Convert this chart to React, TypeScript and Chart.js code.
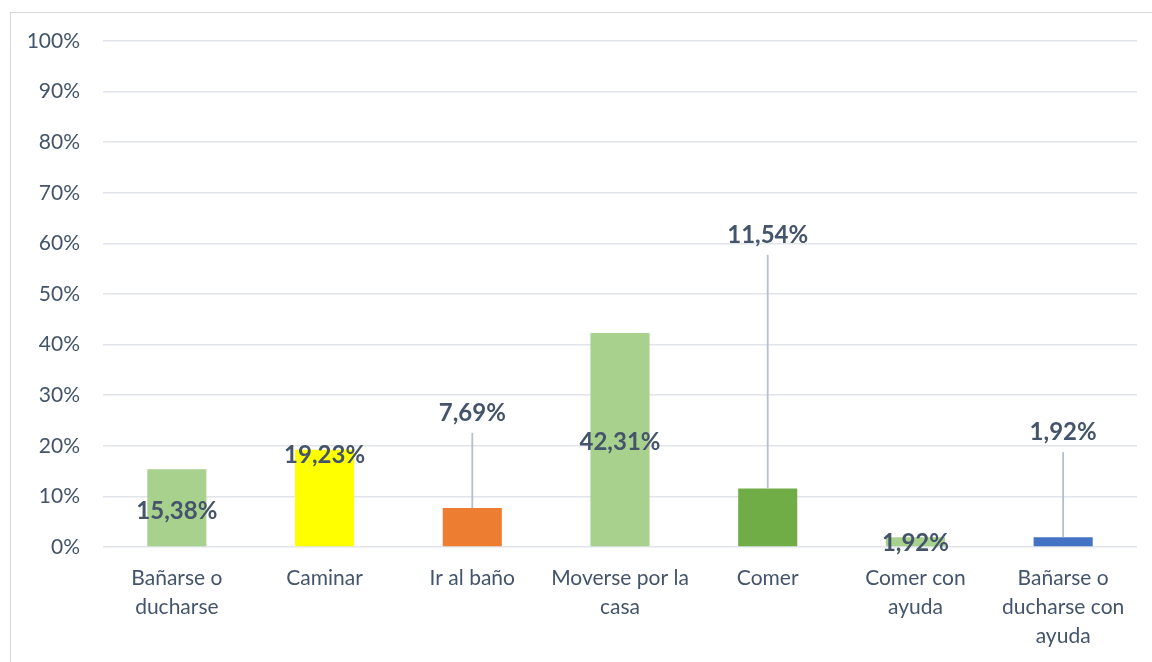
import React, { useEffect, useRef } from "react";
import { Chart, registerables } from "chart.js";

Chart.register(...registerables);

const categories: string[][] = [
  ["Bañarse o", "ducharse"],
  ["Caminar"],
  ["Ir al baño"],
  ["Moverse por la", "casa"],
  ["Comer"],
  ["Comer con", "ayuda"],
  ["Bañarse o", "ducharse con", "ayuda"],
];
const values = [15.38, 19.23, 7.69, 42.31, 11.54, 1.92, 1.92];
const barColors = ["#A9D18E", "#FFFF00", "#ED7D31", "#A9D18E", "#70AD47", "#A9D18E", "#4472C4"];
const labelAt = [7.1, 18.2, 26.5, 20.7, 61.7, 0.8, 22.7];
const hasLeader = [false, false, true, false, true, false, true];

const TEXT = "#44546A";
const FONT = "Lato, 'Open Sans', sans-serif";

const labelPlugin = {
  id: "valueLabels",
  afterDatasetsDraw(chart: any) {
    const ctx = chart.ctx;
    const meta = chart.getDatasetMeta(0);
    const yScale = chart.scales.y;
    ctx.save();
    meta.data.forEach((el: any, i: number) => {
      const x = el.x;
      const y = yScale.getPixelForValue(labelAt[i]);
      if (hasLeader[i]) {
        ctx.strokeStyle = "#B4BFCE";
        ctx.lineWidth = 1.8;
        ctx.beginPath();
        ctx.moveTo(x, y + 20);
        ctx.lineTo(x, el.y);
        ctx.stroke();
      }
      ctx.fillStyle = TEXT;
      ctx.font = `bold 24px ${FONT}`;
      ctx.textAlign = "center";
      ctx.textBaseline = "middle";
      ctx.fillText(values[i].toFixed(2).replace(".", ",") + "%", x, y);
    });
    ctx.restore();
  },
};

const framePlugin = {
  id: "frame",
  beforeDraw(chart: any) {
    const ctx = chart.ctx;
    ctx.save();
    ctx.fillStyle = "#FFFFFF";
    ctx.fillRect(0, 0, chart.width, chart.height);
    ctx.strokeStyle = "#D9D9D9";
    ctx.lineWidth = 1;
    ctx.strokeRect(10.5, 12.5, 1300, 800);
    ctx.restore();
  },
};

export default function App() {
  const ref = useRef<HTMLCanvasElement>(null);
  useEffect(() => {
    if (!ref.current) return;
    const chart = new Chart(ref.current, {
      type: "bar",
      data: {
        labels: categories,
        datasets: [
          {
            data: values,
            backgroundColor: barColors,
            barPercentage: 0.4,
            categoryPercentage: 1,
          },
        ],
      },
      options: {
        responsive: false,
        animation: false,
        layout: { padding: { top: 41, right: 15, left: 0, bottom: 0 } },
        plugins: { legend: { display: false }, tooltip: { enabled: false } },
        scales: {
          x: {
            grid: { display: false, drawTicks: false },
            border: { display: false },
            ticks: {
              color: TEXT,
              font: { family: FONT, size: 21, lineHeight: "29px" },
              padding: 17,
              maxRotation: 0,
              autoSkip: false,
            },
            afterFit(scale: any) {
              scale.height = 115;
            },
          },
          y: {
            min: 0,
            max: 100,
            grid: { color: "#E1E4EA", lineWidth: 1.5, drawTicks: false },
            border: { display: false },
            ticks: {
              stepSize: 10,
              color: TEXT,
              font: { family: FONT, size: 21 },
              padding: 23,
              callback: (v: any) => v + "%",
            },
            afterFit(scale: any) {
              scale.width = 103;
            },
          },
        },
      },
      plugins: [framePlugin, labelPlugin],
    });
    return () => chart.destroy();
  }, []);
  return (
    <div style={{ position: "absolute", left: 0, top: 0, width: 1152, height: 662 }}>
      <canvas ref={ref} width={1152} height={662} />
    </div>
  );
}
